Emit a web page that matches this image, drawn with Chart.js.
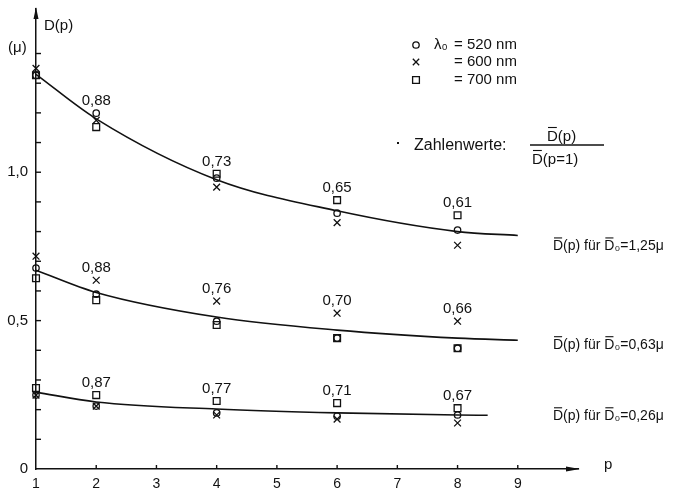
<!DOCTYPE html>
<html lang="de">
<head>
<meta charset="UTF-8">
<title>D(p)</title>
<script src="https://cdn.jsdelivr.net/npm/chart.js@4.4.1/dist/chart.umd.min.js"></script>
<style>
  body { margin: 0; background: #fff; }
  #chart { display: block; }
</style>
</head>
<body>
<canvas id="chart" width="673" height="493"></canvas>
<script>
// Messpunkte bei p = 1, 2, 4, 6, 8
const pValues = [1, 2, 4, 6, 8];

const top520 = [1.327, 1.199, 0.980, 0.862, 0.805];
const mid520 = [0.677, 0.589, 0.498, 0.441, 0.407];
const low520 = [0.249, 0.212, 0.189, 0.178, 0.182];

const top600 = [1.350, 1.175, 0.950, 0.830, 0.754];
const mid600 = [0.717, 0.636, 0.566, 0.525, 0.498];
const low600 = [0.249, 0.212, 0.182, 0.168, 0.155];

const top700 = [1.327, 1.152, 0.995, 0.906, 0.855];
const mid700 = [0.643, 0.569, 0.485, 0.441, 0.407];
const low700 = [0.273, 0.249, 0.229, 0.222, 0.205];

// Ausgleichskurven
const curveTopP = [1, 2, 4, 6, 8, 9];
const curveTop  = [1.33, 1.18, 0.975, 0.87, 0.80, 0.787];
const curveMidP = [1, 2, 4, 6, 8, 9];
const curveMid  = [0.67, 0.595, 0.512, 0.468, 0.441, 0.434];
const curveLowP = [1, 2, 4, 6, 8, 8.5];
const curveLow  = [0.259, 0.226, 0.202, 0.189, 0.182, 0.181];

// Zahlenwerte D(p)/D(p=1) bei p = 2, 4, 6, 8
const ratioP = [2, 4, 6, 8];
const ratioTop = ['0,88', '0,73', '0,65', '0,61'];
const ratioMid = ['0,88', '0,76', '0,70', '0,66'];
const ratioLow = ['0,87', '0,77', '0,71', '0,67'];

const curveNames = ['1,25μ', '0,63μ', '0,26μ'];
const legendNames = ['520 nm', '600 nm', '700 nm'];

const xTicks = [1, 2, 3, 4, 5, 6, 7, 8, 9];
const yLabelValues = [0, 0.5, 1.0];
const yLabelText = ['0', '0,5', '1,0'];
const yMinorTicks = [0.1, 0.2, 0.3, 0.4, 0.5, 0.6, 0.7, 0.8, 0.9, 1.0, 1.1, 1.2, 1.3, 1.4];

const INK = '#111';
const FONT = "'Liberation Sans', 'DejaVu Sans', sans-serif";

function pts(xs, ys) {
    return xs.map((x, i) => ({ x: x, y: ys[i] }));
}
function allGroups(a, b, c) {
    return pts(pValues, a).concat(pts(pValues, b), pts(pValues, c));
}
function curve(xs, ys) {
    return {
        type: 'line', data: pts(xs, ys), borderColor: INK, borderWidth: 1.6,
        pointRadius: 0, cubicInterpolationMode: 'monotone', fill: false, clip: false
    };
}
function markers(data, style, radius) {
    return {
        type: 'scatter', data: data, pointStyle: style, pointRadius: radius, clip: false,
        pointBorderColor: INK, pointBackgroundColor: 'rgba(0,0,0,0)', pointBorderWidth: 1.3
    };
}

// Text mit Überstrich auf einzelnen Teilen: [[text, overline], ...], y = Grundlinie
function drawParts(ctx, parts, x, y, capH) {
    let cx = x;
    parts.forEach(([t, over]) => {
        ctx.fillText(t, cx, y);
        const w = ctx.measureText(t).width;
        if (over) {
            ctx.beginPath();
            ctx.moveTo(cx + 1, y - capH - 2.5);
            ctx.lineTo(cx + w - 1, y - capH - 2.5);
            ctx.stroke();
        }
        cx += w;
    });
    return cx - x;
}

const decorations = {
    id: 'decorations',
    afterDraw(chart) {
        const ctx = chart.ctx;
        const xs = chart.scales.x, ys = chart.scales.y;
        const x0 = xs.getPixelForValue(1), y0 = ys.getPixelForValue(0);
        ctx.save();
        ctx.strokeStyle = INK;
        ctx.fillStyle = INK;
        ctx.lineWidth = 1.4;

        // kleine Teilstriche nach innen
        yMinorTicks.forEach(v => {
            const y = ys.getPixelForValue(v);
            ctx.beginPath(); ctx.moveTo(x0, y); ctx.lineTo(x0 + 5, y); ctx.stroke();
        });
        xTicks.slice(1).forEach(v => {
            const x = xs.getPixelForValue(v);
            ctx.beginPath(); ctx.moveTo(x, y0); ctx.lineTo(x, y0 - 4); ctx.stroke();
        });

        // Pfeile
        const yTop = chart.chartArea.top;
        ctx.beginPath();
        ctx.moveTo(x0, yTop - 2); ctx.lineTo(x0 - 2.5, yTop + 10); ctx.lineTo(x0 + 2.5, yTop + 10);
        ctx.closePath(); ctx.fill();
        const xEnd = chart.chartArea.right;
        ctx.beginPath();
        ctx.moveTo(xEnd + 2, y0); ctx.lineTo(xEnd - 12, y0 - 2.5); ctx.lineTo(xEnd - 12, y0 + 2.5);
        ctx.closePath(); ctx.fill();

        // Achsentitel
        ctx.font = '15px ' + FONT;
        ctx.textBaseline = 'middle';
        ctx.textAlign = 'left';
        ctx.fillText('D(p)', 44, 26);
        ctx.fillText('(μ)', 8, 48);
        ctx.fillText('p', 604, 465);

        // Zahlenwerte über den Punkten
        ctx.textAlign = 'center';
        ctx.textBaseline = 'alphabetic';
        const groups = [[ratioTop, top520, top600, top700], [ratioMid, mid520, mid600, mid700], [ratioLow, low520, low600, low700]];
        groups.forEach(([labels, a, b, c]) => {
            ratioP.forEach((p, i) => {
                const k = pValues.indexOf(p);
                const yMax = Math.max(a[k], b[k], c[k]);
                ctx.fillText(labels[i], xs.getPixelForValue(p), ys.getPixelForValue(yMax) - 8);
            });
        });

        // Kurvenbeschriftung rechts
        ctx.textAlign = 'left';
        ctx.font = '14px ' + FONT;
        ctx.lineWidth = 1.1;
        const labelY = [curveTop[curveTop.length - 1], curveMid[curveMid.length - 1], curveLow[curveLow.length - 1]];
        const labelOffset = [10, 4, 0];
        curveNames.forEach((n, i) => {
            const y = ys.getPixelForValue(labelY[i]) + labelOffset[i] + 5;
            drawParts(ctx, [['D', true], ['(p) für ', false], ['D', true], ['₀=' + n, false]], 553, y, 10);
        });

        // Legende
        ctx.font = '15px ' + FONT;
        ctx.textBaseline = 'middle';
        const legStyles = [['circle', 3.2], ['crossRot', 4.5], ['rect', 4.8]];
        const legY = [45, 62, 80];
        legStyles.forEach(([st, r], i) => {
            ctx.save();
            ctx.lineWidth = 1.3;
            ctx.fillStyle = 'rgba(0,0,0,0)';
            Chart.helpers.drawPoint(ctx, { pointStyle: st, radius: r, rotation: 0, borderWidth: 1.3 }, 416, legY[i]);
            ctx.restore();
            ctx.fillText('= ' + legendNames[i], 454, legY[i]);
        });
        ctx.fillText('λ₀', 434, legY[0]);

        // Zahlenwerte: D(p) / D(p=1)
        ctx.font = '16px ' + FONT;
        ctx.fillText('Zahlenwerte:', 414, 146);
        ctx.font = '15px ' + FONT;
        ctx.fillRect(397, 142, 2, 2);
        ctx.lineWidth = 1.1;
        ctx.textBaseline = 'alphabetic';
        drawParts(ctx, [['D', true], ['(p)', false]], 547, 141, 11);
        ctx.lineWidth = 1.3;
        ctx.beginPath(); ctx.moveTo(530, 145); ctx.lineTo(604, 145); ctx.stroke();
        ctx.lineWidth = 1.1;
        drawParts(ctx, [['D', true], ['(p=1)', false]], 532, 164, 11);
        ctx.restore();
    }
};

new Chart(document.getElementById('chart'), {
    data: {
        datasets: [
            curve(curveTopP, curveTop),
            curve(curveMidP, curveMid),
            curve(curveLowP, curveLow),
            markers(allGroups(top520, mid520, low520), 'circle', 3.2),
            markers(allGroups(top600, mid600, low600), 'crossRot', 4.8),
            markers(allGroups(top700, mid700, low700), 'rect', 4.8)
        ]
    },
    options: {
        responsive: false,
        animation: false,
        layout: { padding: { top: 9, right: 95, left: 0, bottom: 0 } },
        plugins: { legend: { display: false }, tooltip: { enabled: false } },
        scales: {
            x: {
                type: 'linear', min: 1, max: 10,
                afterFit(s) { s.height = 24; s.paddingLeft = 0; s.paddingRight = 0; },
                afterBuildTicks(s) { s.ticks = xTicks.map(v => ({ value: v })); },
                grid: { display: false, drawTicks: false },
                border: { display: true, color: INK, width: 1.5 },
                ticks: { color: INK, padding: 7, font: { family: FONT, size: 14 }, callback: v => String(v) }
            },
            y: {
                type: 'linear', min: 0, max: 1.55,
                afterFit(s) { s.width = 36; s.paddingTop = 0; s.paddingBottom = 0; },
                afterBuildTicks(s) { s.ticks = yLabelValues.map(v => ({ value: v })); },
                grid: { display: false, drawTicks: false },
                border: { display: true, color: INK, width: 1.5 },
                ticks: {
                    color: INK, padding: 8, font: { family: FONT, size: 15 },
                    callback: v => yLabelText[yLabelValues.indexOf(v)]
                }
            }
        }
    },
    plugins: [decorations]
});
</script>
</body>
</html>
